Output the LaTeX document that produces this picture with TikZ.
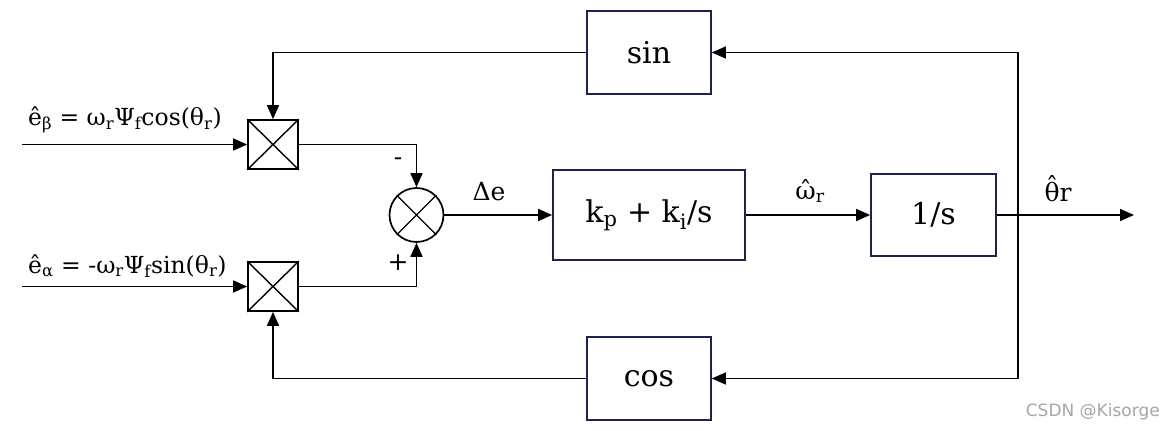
\documentclass[tikz,border=0pt]{standalone}
\usepackage{fontspec}
\setmainfont{DejaVu Serif}
\newfontfamily\wmfont{DejaVu Sans}
\usetikzlibrary{arrows.meta}
\definecolor{navy}{HTML}{1C2350}
\newcommand\hatchar[2]{\begingroup\setbox0\hbox{#2}\rlap{\hbox to \wd0{\hfil\raisebox{#1}{\char"02C6}\hfil}}\box0\endgroup}
\tikzset{
  blk/.style={draw=navy, line width=1.7pt, fill=white, inner sep=0pt, font=\fontsize{30}{36}\selectfont},
  mult/.style={draw=black, line width=1.7pt, minimum width=50pt, minimum height=49pt, inner sep=0pt},
  sumc/.style={draw=black, line width=1.7pt, circle, minimum size=54pt, inner sep=0pt},
  arr/.style={line width=1.6pt, -{Triangle[length=14pt,width=12pt]}},
  lbl/.style={font=\fontsize{25}{30}\selectfont, inner sep=0pt},
  eqlbl/.style={font=\fontsize{23.5}{28}\selectfont, inner sep=0pt, anchor=west},
}
\begin{document}
\begin{tikzpicture}[x=1pt,y=-1pt]
\useasboundingbox (0,0) rectangle (1163,431);
% blocks
\node[blk, minimum width=124pt, minimum height=83pt] (sinb) at (649,52.5) {sin};
\node[blk, minimum width=124pt, minimum height=83pt] (cosb) at (649,378.5) {cos};
\node[blk, minimum width=192pt, minimum height=90pt] (pi) at (649,215) {k\textsubscript{p} + k\textsubscript{i}/s};
\node[blk, minimum width=125pt, minimum height=82pt] (intg) at (933.5,215) {1/s};
\node[mult] (m1) at (273,144.5) {};
\node[mult] (m2) at (273,286.5) {};
\draw[line width=1.4pt] (m1.north west) -- (m1.south east) (m1.north east) -- (m1.south west);
\draw[line width=1.4pt] (m2.north west) -- (m2.south east) (m2.north east) -- (m2.south west);
\node[sumc] (sum) at (416.5,215) {};
\draw[line width=1.4pt] (sum.north west) -- (sum.south east) (sum.north east) -- (sum.south west);
% coordinates
\coordinate (in1) at (22,144.5);
\coordinate (in2) at (22,286.5);
\coordinate (tap) at (1018,215);
\coordinate (out) at (1134,215);
% connectors
\draw[arr] (in1) -- (m1.west);
\draw[arr] (in2) -- (m2.west);
\draw[arr] (sinb.west) -| (m1.north);
\draw[arr] (cosb.west) -| (m2.south);
\draw[arr] (m1.east) -| (sum.north);
\draw[arr] (m2.east) -| (sum.south);
\draw[arr] (sum.east) -- (pi.west);
\draw[arr] (pi.east) -- (intg.west);
\draw[arr] (intg.east) -- (out);
\draw[arr] (tap) |- (sinb.east);
\draw[arr] (tap) |- (cosb.east);
% labels
\node[eqlbl] (eq1) at (28,120) {\^{e}\textsubscript{β} = ω\textsubscript{r}Ψ\textsubscript{f}cos(θ\textsubscript{r})};
\node[eqlbl] (eq2) at (28,266) {\^{e}\textsubscript{α} = -ω\textsubscript{r}Ψ\textsubscript{f}sin(θ\textsubscript{r})};
\node[lbl] (minus) at (398,162) {-};
\node[lbl] (plus) at (398,263) {+};
\node[lbl] (de) at (489,192) {Δe};
\node[lbl] (wr) at (810,191) {\hatchar{0em}{ω}\textsubscript{r}};
\node[lbl] (thr) at (1058,189) {\hatchar{0.25em}{θ}r};
\node[font=\wmfont\fontsize{17}{20}\selectfont, text=black!35, anchor=east, inner sep=0pt] (wm) at (1160,412) {CSDN @Kisorge};
\end{tikzpicture}
\end{document}
